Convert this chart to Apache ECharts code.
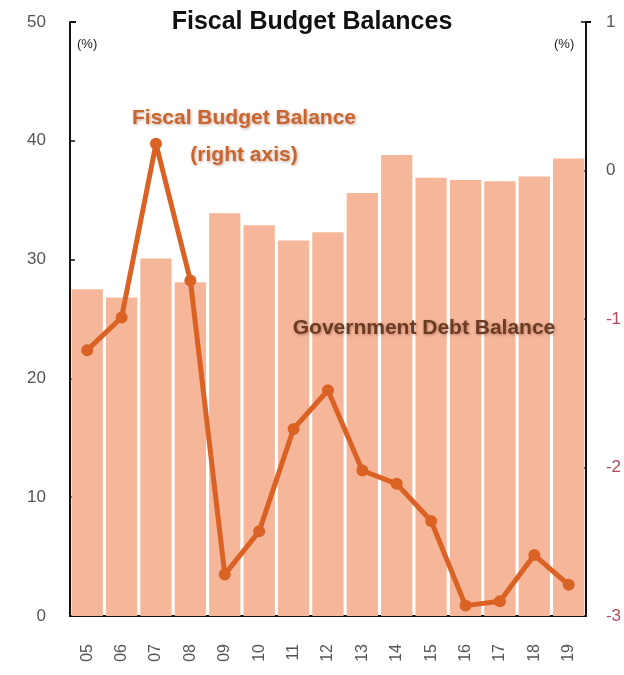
<!DOCTYPE html>
<html>
<head>
<meta charset="utf-8">
<script src="https://cdn.jsdelivr.net/npm/echarts@6/dist/echarts.min.js"></script>
<style>
  html, body { margin: 0; padding: 0; background: #fff; }
  #chart { width: 624px; height: 675px; }
</style>
</head>
<body>
<div id="chart"></div>
<script>
// Fiscal years shown on the category axis
const years = ['05', '06', '07', '08', '09', '10', '11', '12', '13', '14', '15', '16', '17', '18', '19'];
// Government debt balance, % (left axis, bars)
const debtBalance = [27.5, 26.8, 30.1, 28.1, 33.9, 32.9, 31.6, 32.3, 35.6, 38.8, 36.9, 36.7, 36.6, 37.0, 38.5];
// Fiscal budget balance, % (right axis, line)
const budgetBalance = [-1.21, -0.99, 0.18, -0.74, -2.72, -2.43, -1.74, -1.48, -2.02, -2.11, -2.36, -2.93, -2.90, -2.59, -2.79];
// Axis ranges
const leftAxisRange = [0, 50, 10];
const rightAxisRange = [-3, 1, 1];

const sans = "'Liberation Sans', Arial, sans-serif";

const chart = echarts.init(document.getElementById('chart'));
chart.setOption({
  animation: false,
  backgroundColor: '#ffffff',
  title: {
    text: 'Fiscal Budget Balances',
    left: 'center',
    top: 5,
    textStyle: { fontFamily: sans, fontSize: 25, fontWeight: 'bold', color: '#111' }
  },
  grid: { left: 70, right: 33, top: 22, bottom: 59 },
  xAxis: {
    type: 'category',
    data: years,
    boundaryGap: true,
    axisLine: { lineStyle: { color: '#111', width: 2 } },
    axisTick: { inside: true, length: 5, lineStyle: { color: '#111', width: 1.5 } },
    axisLabel: { rotate: 90, margin: 28, fontFamily: sans, fontSize: 16, color: '#555' }
  },
  yAxis: [
    {
      type: 'value',
      min: leftAxisRange[0], max: leftAxisRange[1], interval: leftAxisRange[2],
      axisLine: { show: true, lineStyle: { color: '#111', width: 2 } },
      axisTick: { show: true, inside: true, length: 5, lineStyle: { color: '#111', width: 1.5 } },
      axisLabel: { margin: 24, fontFamily: sans, fontSize: 17, color: '#555' },
      splitLine: { show: false }
    },
    {
      type: 'value',
      min: rightAxisRange[0], max: rightAxisRange[1], interval: rightAxisRange[2],
      position: 'right',
      axisLine: { show: true, lineStyle: { color: '#111', width: 2 } },
      axisTick: { show: true, inside: true, length: 5, lineStyle: { color: '#111', width: 1.5 } },
      axisLabel: {
        margin: 20, fontFamily: sans, fontSize: 17,
        color: function (v) { return Number(v) < 0 ? '#b5495a' : '#555'; }
      },
      splitLine: { show: false }
    }
  ],
  series: [
    {
      name: 'Government Debt Balance',
      type: 'bar',
      yAxisIndex: 0,
      data: debtBalance,
      barCategoryGap: '9%',
      itemStyle: { color: '#f5b699' },
      z: 1
    },
    {
      name: 'Fiscal Budget Balance',
      type: 'line',
      yAxisIndex: 1,
      data: budgetBalance,
      symbol: 'circle',
      symbolSize: 12,
      lineStyle: { color: '#da6224', width: 5 },
      itemStyle: { color: '#da6224' },
      z: 3
    }
  ],
  graphic: [
    // corner brackets at the top of both value axes, plus units
    { type: 'line', shape: { x1: 70, y1: 22, x2: 76, y2: 22 }, style: { stroke: '#111', lineWidth: 2 } },
    { type: 'line', shape: { x1: 585, y1: 22, x2: 591, y2: 22 }, style: { stroke: '#111', lineWidth: 2 } },
    { type: 'text', left: 77, top: 38, style: { text: '(%)', font: '13px ' + sans, fill: '#222' } },
    { type: 'text', left: 554, top: 38, style: { text: '(%)', font: '13px ' + sans, fill: '#222' } },
    {
      type: 'text', x: 244, y: 137, z: 10,
      style: {
        text: 'Fiscal Budget Balance\n(right axis)',
        font: 'bold 21px ' + sans,
        fill: '#c9652f', align: 'center', verticalAlign: 'middle', lineHeight: 37,
        textShadowColor: 'rgba(120,60,30,0.45)', textShadowBlur: 3, textShadowOffsetX: 1, textShadowOffsetY: 1
      }
    },
    {
      type: 'text', x: 424, y: 328, z: 10,
      style: {
        text: 'Government Debt Balance',
        font: 'bold 21px ' + sans,
        fill: '#6b3b22', align: 'center', verticalAlign: 'middle',
        textShadowColor: 'rgba(90,40,20,0.4)', textShadowBlur: 3, textShadowOffsetX: 1, textShadowOffsetY: 1
      }
    }
  ]
});
</script>
</body>
</html>
